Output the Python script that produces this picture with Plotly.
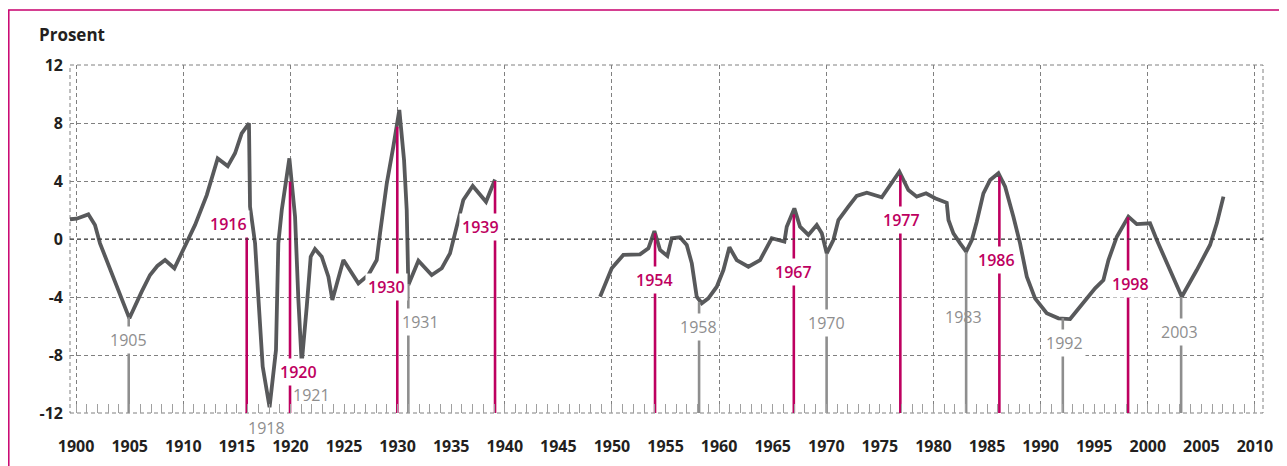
import plotly.graph_objects as go

# ---------------- data ----------------
years_a = [1899.43, 1900.05, 1901.14, 1901.76, 1902.23, 1903.47, 1904.97, 1906.12, 1906.9, 1907.58,
           1908.3, 1909.17, 1910.16, 1911.1, 1912.19, 1913.21, 1914.15, 1914.83, 1915.45, 1916.13,
           1916.23, 1916.7, 1917.0, 1917.41, 1918.05, 1918.65, 1918.87, 1919.19, 1919.9, 1920.43,
           1920.74, 1921.05, 1921.52, 1921.89, 1922.29, 1922.92, 1923.54, 1923.91, 1924.94, 1926.34,
           1927.27, 1928.05, 1928.36, 1928.99, 1929.6, 1930.16, 1930.6, 1930.85, 1931.0, 1931.47,
           1931.94, 1933.18, 1934.12, 1934.89, 1935.52, 1936.13, 1937.01, 1938.25, 1939.09]
vals_a = [1.36, 1.40, 1.70, 0.97, -0.30, -2.6, -5.47, -3.63, -2.48, -1.86,
          -1.45, -2.02, -0.41, 0.97, 3.03, 5.56, 5.03, 5.91, 7.29, 7.98,
          2.23, -0.3, -3.98, -8.8, -11.6, -7.66, -0.3, 2.0, 5.56, 1.54,
          -4.2, -8.57, -4.67, -1.22, -0.69, -1.22, -2.6, -4.2, -1.45, -3.06,
          -2.48, -1.45, 0.39, 3.84, 6.37, 8.9, 5.45, 2.0, -3.17, -2.37,
          -1.5, -2.48, -2.02, -0.99, 0.85, 2.69, 3.66, 2.57, 4.1]

years_b = [1948.89, 1949.98, 1951.06, 1952.62, 1953.4, 1953.96, 1954.49, 1955.17, 1955.58, 1956.35,
           1956.98, 1957.45, 1957.91, 1958.38, 1958.99, 1959.78, 1960.4, 1960.96, 1961.64, 1962.73,
           1963.82, 1964.91, 1966.09, 1966.31, 1967.02, 1967.55, 1968.33, 1969.11, 1969.58, 1970.04,
           1970.66, 1971.13, 1972.06, 1972.84, 1973.78, 1975.18, 1976.82, 1977.66, 1978.44, 1979.31,
           1980.15, 1981.24, 1981.4, 1981.86, 1982.49, 1983.05, 1983.58, 1984.04, 1984.66, 1985.29,
           1986.06, 1986.69, 1987.46, 1988.08, 1988.71, 1989.48, 1990.57, 1991.66, 1992.75, 1993.68,
           1995.08, 1995.86, 1996.33, 1997.11, 1998.19, 1998.97, 2000.21, 2000.84, 2003.17, 2004.57,
           2005.81, 2006.44, 2007.06]
vals_b = [-3.98, -2.02, -1.1, -1.06, -0.64, 0.55, -0.76, -1.17, 0.05, 0.12,
          -0.41, -1.68, -3.98, -4.43, -4.09, -3.29, -2.14, -0.57, -1.45, -1.91,
          -1.45, 0.05, -0.18, 0.85, 2.11, 0.85, 0.28, 0.97, 0.39, -0.99,
          -0.07, 1.31, 2.23, 2.97, 3.19, 2.87, 4.64, 3.38, 2.92, 3.15,
          2.81, 2.5, 1.31, 0.39, -0.3, -0.87, -0.07, 1.19, 3.15, 4.07,
          4.53, 3.61, 1.54, -0.3, -2.6, -4.09, -5.12, -5.47, -5.52, -4.67,
          -3.40, -2.83, -1.45, 0.16, 1.54, 1.03, 1.08, -0.07, -3.98, -2.14,
          -0.41, 1.08, 2.92]

# peaks (magenta markers)
peak_years = [1915.92, 1919.96, 1929.97, 1939.09, 1954.02, 1966.97, 1976.91, 1986.15, 1998.16]
peak_tops = [0.6, 3.95, 7.74, 4.0, 0.4, 1.7, 4.4, 4.3, 1.5]
peak_labels = ["1916", "1920", "1930", "1939", "1954", "1967", "1977", "1986", "1998"]
peak_label_x = [1914.2, 1920.74, 1928.92, 1937.69, 1953.95, 1966.93, 1977.04, 1985.91, 1998.35]
peak_label_y = [1.03, -9.15, -3.29, 0.85, -2.83, -2.25, 1.31, -1.45, -3.13]

# troughs (grey markers)
trough_years = [1904.91, 1931.0, 1958.13, 1970.03, 1983.05, 1992.07, 2003.11]
trough_tops = [-5.4, -3.1, -4.35, -1.0, -0.9, -5.45, -4.0]
trough_labels = ["1905", "1918", "1921", "1931", "1958", "1970", "1983", "1992", "2003"]
trough_label_x = [1904.87, 1917.81, 1921.98, 1932.09, 1958.1, 1970.0, 1982.8, 1992.2, 2002.93]
trough_label_y = [-6.97, -12.0, -10.76, -5.7, -6.05, -5.77, -5.36, -7.2, -6.39]
trough_label_bg = [True, False, False, True, True, True, False, True, True]

y_ticks = [-12, -8, -4, 0, 4, 8, 12]
y_tick_text = ["-12", "-8", "-4", "0", "4", "8", "12"]
x_label_ticks = list(range(1900, 2011, 5))
x_grid_ticks = list(range(1900, 2011, 10))
zero_value = 0

# ---------------- styling ----------------
CURVE = "#58595B"
MAGENTA = "#BE0060"
GREY = "#8E8E8E"
GRID = "#808080"
TEXT = "#231F20"
FONT = "Open Sans"
X_RANGE = [1899.43, 2010.75]
Y_RANGE = [-12, 12]
DASH = "4px,3px"

fig = go.Figure()

# vertical marker lines
for yr, top in zip(peak_years, peak_tops):
    fig.add_trace(go.Scatter(x=[yr, yr], y=[top, Y_RANGE[0]], mode="lines", xaxis="x2",
                             line=dict(color=MAGENTA, width=2.6), hoverinfo="skip", showlegend=False))
for yr, top in zip(trough_years, trough_tops):
    fig.add_trace(go.Scatter(x=[yr, yr], y=[top, Y_RANGE[0]], mode="lines", xaxis="x2",
                             line=dict(color=GREY, width=2.6), hoverinfo="skip", showlegend=False))

# main curve
fig.add_trace(go.Scatter(x=years_a + [None] + years_b, y=vals_a + [None] + vals_b,
                         mode="lines", line=dict(color=CURVE, width=3.8),
                         connectgaps=False, hoverinfo="skip", showlegend=False))

# labels
for txt, lx, ly in zip(peak_labels, peak_label_x, peak_label_y):
    fig.add_annotation(x=lx, y=ly, xref="x", yref="y", text=txt, showarrow=False,
                       font=dict(family=FONT, size=16, color=MAGENTA, weight=600),
                       bgcolor="white", borderpad=2)
for txt, lx, ly, bg in zip(trough_labels, trough_label_x, trough_label_y, trough_label_bg):
    kw = {}
    if ly == Y_RANGE[0]:
        kw = dict(yanchor="top", yshift=-1)
    fig.add_annotation(x=lx, y=ly, xref="x", yref="y", text=txt, showarrow=False,
                       font=dict(family=FONT, size=16, color=GREY),
                       bgcolor="white" if bg else "rgba(0,0,0,0)", borderpad=2, **kw)

# y-axis title
fig.add_annotation(x=-0.0276, y=1.089, xref="paper", yref="paper", text="Prosent",
                   showarrow=False, xanchor="left", yanchor="middle",
                   font=dict(family=FONT, size=17, color=TEXT, weight="bold"))

# zero line (dashed, darker)
fig.add_shape(type="line", xref="paper", yref="y", x0=0, x1=1, y0=zero_value, y1=zero_value,
              line=dict(color="#333333", width=1.2, dash=DASH), layer="above")

# dashed plot frame
fig.add_shape(type="rect", xref="paper", yref="paper", x0=0, x1=1, y0=0, y1=1,
              line=dict(color=GRID, width=1, dash=DASH), layer="below")

# outer magenta frame (cropped)
fig.add_shape(type="rect", xref="paper", yref="paper", x0=-0.0513, x1=1.1, y0=-0.5, y1=1.158,
              line=dict(color="#C8006E", width=1.5), layer="above")

fig.update_layout(
    width=1287, height=466,
    margin=dict(l=62, r=32, t=57, b=61, autoexpand=False),
    paper_bgcolor="white", plot_bgcolor="white",
    showlegend=False,
    xaxis=dict(range=X_RANGE, tickvals=x_grid_ticks, showticklabels=False, ticks="",
               showgrid=True, gridcolor=GRID, gridwidth=1, griddash=DASH,
               zeroline=False, showline=False, fixedrange=True, automargin=False),
    xaxis2=dict(range=X_RANGE, overlaying="x", anchor="y", side="bottom",
                tickvals=x_label_ticks, showgrid=False, zeroline=False, showline=False,
                ticks="inside", ticklen=9, tickcolor="#A0A0A0", tickwidth=1,
                minor=dict(dtick=1, tick0=1900, ticks="inside", ticklen=9,
                           tickcolor="#A0A0A0", tickwidth=1, showgrid=False),
                ticklabelstandoff=22, automargin=False,
                tickfont=dict(family=FONT, size=16, color=TEXT, weight="bold")),
    yaxis=dict(range=Y_RANGE, tickvals=y_ticks, ticktext=y_tick_text, ticks="", showgrid=True,
               gridcolor=GRID, gridwidth=1, griddash=DASH, zeroline=False,
               showline=False, ticklabelstandoff=6, automargin=False,
               tickfont=dict(family=FONT, size=16, color=TEXT, weight="bold")),
)

fig.write_html("out.html")
